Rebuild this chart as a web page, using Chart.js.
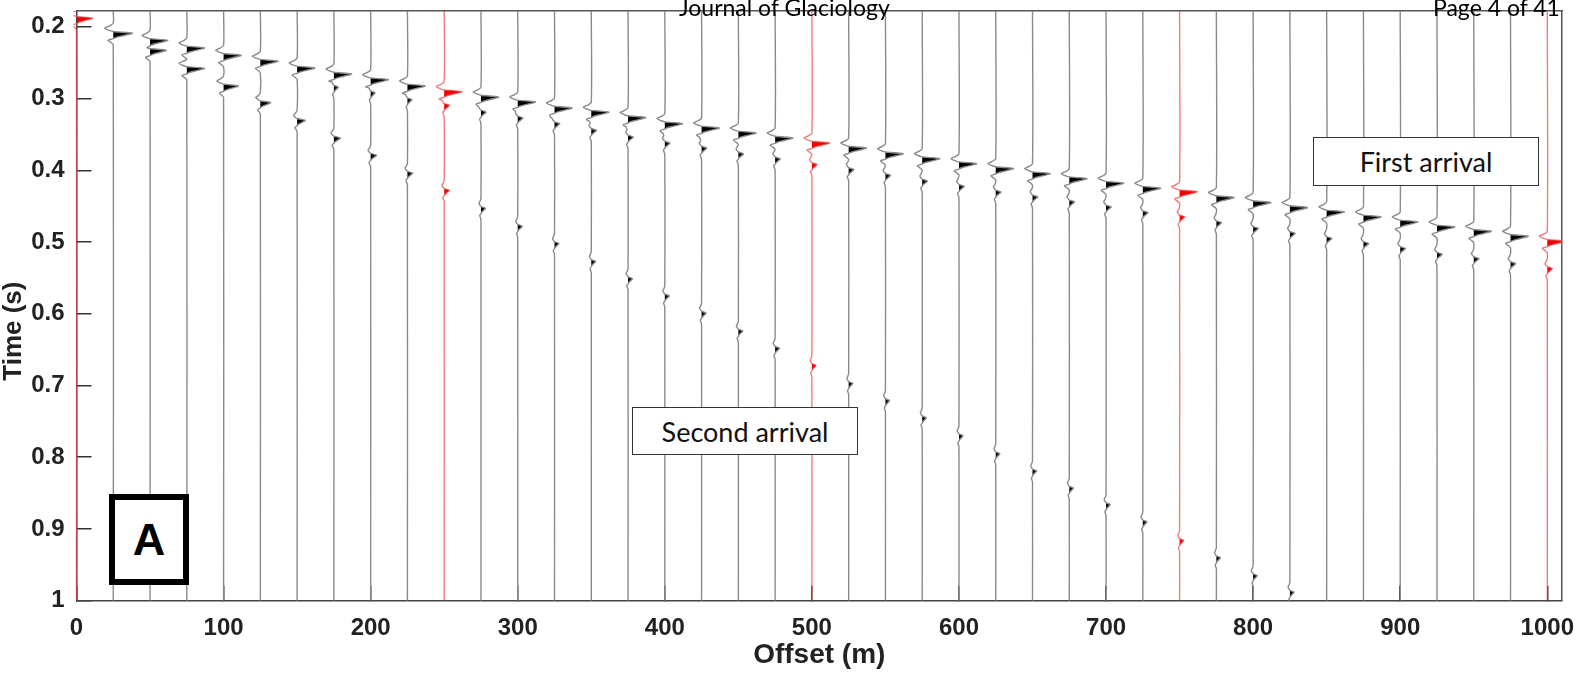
<!DOCTYPE html>
<html>
<head>
<meta charset="utf-8">
<script src="https://cdn.jsdelivr.net/npm/chart.js@4.4.1/dist/chart.umd.min.js"></script>
<style>
  html, body { margin: 0; padding: 0; background: #fff; }
  #wrap { position: relative; width: 1576px; height: 676px; overflow: hidden; }
  #wrap canvas { position: absolute; left: 0; top: 0; }
  .note {
    position: absolute; box-sizing: border-box; background: #fff; border: 1px solid #333;
    font-family: Lato, "Open Sans", sans-serif; font-size: 27px; color: #111;
    display: flex; align-items: center; justify-content: center;
  }
  #first { left: 1313px; top: 137px; width: 226px; height: 49px; }
  #second { left: 632px; top: 407px; width: 226px; height: 48px; }
  #panel {
    position: absolute; box-sizing: border-box; left: 109px; top: 494px; width: 80px; height: 91px;
    border: 6px solid #000; background: #fff; color: #000;
    font: bold 45px "Liberation Sans", Arial, sans-serif;
    display: flex; align-items: center; justify-content: center;
  }
  .head { position: absolute; font-family: Lato, sans-serif; font-size: 23px; line-height: 23px; color: #000; white-space: nowrap; }
  #journal { left: 679px; top: -4px; }
  #page { left: 1433px; top: -4px; }
</style>
</head>
<body>
<div id="wrap">
  <canvas id="chart" width="1576" height="676"></canvas>
  <div class="note" id="first">First arrival</div>
  <div class="note" id="second">Second arrival</div>
  <div id="panel">A</div>
  <div class="head" id="journal">Journal of Glaciology</div>
  <div class="head" id="page">Page 4 of 41</div>
</div>
<script>
// trace positions (m) and the red ones
const offsets = [0, 25, 50, 75, 100, 125, 150, 175, 200, 225, 250, 275, 300, 325, 350, 375, 400, 425, 450, 475,
  500, 525, 550, 575, 600, 625, 650, 675, 700, 725, 750, 775, 800, 825, 850, 875, 900, 925, 950, 975, 1000];
const redOffsets = [0, 250, 500, 750, 1000];

// first arrival (s) and wiggle amplitude (m)
const firstTime = [0.190, 0.211, 0.221, 0.2315, 0.2418, 0.250, 0.2594, 0.2678, 0.2757, 0.2845, 0.2925, 0.300, 0.3068,
  0.3152, 0.321, 0.3286, 0.337, 0.343, 0.350, 0.357, 0.364, 0.371, 0.379, 0.3858, 0.3928, 0.3997, 0.4067, 0.4137,
  0.420, 0.427, 0.432, 0.440, 0.447, 0.454, 0.460, 0.467, 0.474, 0.481, 0.487, 0.494, 0.501];
const firstAmp = [11, 13, 12, 12, 12, 12, 12, 12, 12, 12, 12, 12, 12, 12, 12, 12, 12, 12, 12, 12, 12, 12, 12, 12,
  12, 12, 12, 12, 12, 12, 12, 12, 12, 12, 12, 12, 12, 12, 12, 12, 12];

// small event just after the first arrival
const thirdTime = [null, null, null, null, null, null, null, 0.286, 0.294, 0.3035, 0.3115, 0.3207, 0.329, 0.337,
  0.3463, 0.3556, 0.364, 0.371, 0.379, 0.386, 0.394, 0.401, 0.409, 0.4169, 0.4244, 0.4322, 0.439, 0.446, 0.453,
  0.461, 0.467, 0.475, 0.483, 0.490, 0.497, 0.504, 0.511, 0.519, 0.525, 0.532, 0.539];
const thirdAmp = [null, null, null, null, null, null, null, 3, 3, 3, 3.5, 3.5, 3.5, 3.5, 3.5, 3.5, 3.5, 3.5, 3.5,
  3.5, 3.5, 3.5, 3.5, 3.5, 3.5, 3.5, 3.5, 3.5, 3.5, 3.5, 3.5, 3.5, 3.5, 3.5, 3.5, 3.5, 3.5, 3.5, 3.5, 3.5, 3.5];

// second arrival
const secondTime = [null, null, 0.2348, 0.260, 0.2845, 0.3077, 0.3324, 0.357, 0.381, 0.406, 0.430, 0.455, 0.480,
  0.504, 0.529, 0.553, 0.577, 0.601, 0.626, 0.650, 0.674, 0.699, 0.723, 0.747, 0.772, 0.797, 0.821, 0.845, 0.868,
  0.892, 0.918, 0.942, 0.967, 0.990, null, null, null, null, null, null, null];
const secondAmp = [null, null, 11, 12, 10, 7, 5.5, 4.5, 4, 3.5, 3.5, 3, 3, 3, 3, 3, 3, 3, 3, 3, 2.8, 2.8, 2.8, 2.8,
  2.8, 2.8, 2.8, 2.8, 2.8, 2.8, 2.8, 2.8, 2.8, 2.8, null, null, null, null, null, null, null];

// wavelet: time from lobe centre (s), relative amplitude
const waveletTime = [-0.016, -0.012, -0.009, -0.006, -0.0045, -0.002, 0, 0.002, 0.004, 0.0055, 0.008, 0.011, 0.014];
const waveletShape = [0, -0.2, -0.45, -0.2, 0, 1, 0.75, 0.4, 0.12, 0, -0.28, -0.12, 0];

const xTicks = [0, 100, 200, 300, 400, 500, 600, 700, 800, 900, 1000];
const xTickLabels = ["0", "100", "200", "300", "400", "500", "600", "700", "800", "900", "1000"];
const yTicks = [0.2, 0.3, 0.4, 0.5, 0.6, 0.7, 0.8, 0.9, 1];
const yTickLabels = ["0.2", "0.3", "0.4", "0.5", "0.6", "0.7", "0.8", "0.9", "1"];
const yMin = 0.178, yMax = 1;

// one trace: straight line with the wavelets put in at each event
function tracePoints(i) {
  const x0 = offsets[i];
  const events = [[firstTime[i], firstAmp[i]], [thirdTime[i], thirdAmp[i]], [secondTime[i], secondAmp[i]]]
    .filter(e => e[0] != null)
    .sort((a, b) => a[0] - b[0]);
  const pts = [{ x: x0, y: yMin }];
  events.forEach((e, k) => {
    const lo = k > 0 ? (events[k - 1][0] + e[0]) / 2 : -Infinity;
    const hi = k < events.length - 1 ? (e[0] + events[k + 1][0]) / 2 : Infinity;
    waveletTime.forEach((dt, j) => {
      const t = e[0] + dt;
      if (t >= lo && t < hi && t > yMin && t < yMax) pts.push({ x: x0 + e[1] * waveletShape[j], y: t });
    });
  });
  pts.push({ x: x0, y: yMax });
  return pts;
}

// pieces of the trace right of its baseline (filled)
function positiveLobes(pts, x0) {
  const out = [];
  let cur = [];
  pts.forEach(p => {
    if (p.x >= x0) cur.push(p);
    else {
      if (cur.some(q => q.x > x0)) out.push(cur);
      cur = [];
    }
  });
  if (cur.some(q => q.x > x0)) out.push(cur);
  return out;
}

const datasets = [];
offsets.forEach((x0, i) => {
  const red = redOffsets.includes(x0);
  const pts = tracePoints(i);
  datasets.push({
    data: pts,
    borderColor: red ? "rgba(232,70,70,0.7)" : "#8a8a8a",
    borderWidth: 1.4,
    pointRadius: 0,
    fill: false,
    tension: 0.25,
    order: 1,
    clip: x0 === 0 ? { left: 3, top: 0, right: 0, bottom: 0 } : undefined
  });
  positiveLobes(pts, x0).forEach(lobe => {
    datasets.push({
      data: lobe,
      borderColor: "rgba(0,0,0,0)",
      borderWidth: 0,
      backgroundColor: red ? "#f00000" : "#000",
      pointRadius: 0,
      tension: 0.25,
      fill: { target: { value: x0 } },
      order: 2
    });
  });
});

const axisFont = { family: "'Liberation Sans', Arial, sans-serif", size: 24, weight: "bold" };
const titleFont = { family: "'Liberation Sans', Arial, sans-serif", size: 26, weight: "bold" };

// no extra margin for labels that stick out past the plot edges
function noPadding(s) {
  s.paddingLeft = 0; s.paddingRight = 0; s.paddingTop = 0; s.paddingBottom = 0;
}

new Chart(document.getElementById("chart"), {
  type: "line",
  data: { datasets },
  options: {
    indexAxis: "y",
    responsive: false,
    animation: false,
    events: [],
    devicePixelRatio: 1,
    layout: { padding: { left: 0, top: 11, right: 14, bottom: 0 } },
    plugins: { legend: { display: false }, tooltip: { enabled: false } },
    scales: {
      x: {
        type: "linear", position: "bottom", min: 0, max: 1010,
        afterBuildTicks: s => { s.ticks = xTicks.map(v => ({ value: v })); },
        afterFit: s => { s.height = 75.3; noPadding(s); },
        ticks: { color: "#222", font: axisFont, padding: 28, maxRotation: 0, autoSkip: false,
          callback: (v, i) => xTickLabels[i] },
        grid: { drawOnChartArea: false, drawTicks: true, tickLength: -15, color: "#333", lineWidth: 1.5 },
        border: { display: true, color: "#444", width: 1.5 },
        title: { display: true, text: "Offset (m)", color: "#222", font: { ...titleFont, size: 28 }, padding: { top: 0, bottom: 4 } }
      },
      y: {
        type: "linear", position: "left", reverse: true, min: yMin, max: yMax,
        afterBuildTicks: s => { s.ticks = yTicks.map(v => ({ value: v })); },
        afterFit: s => { s.width = 76.5; noPadding(s); },
        ticks: { color: "#222", font: axisFont, padding: 27, autoSkip: false,
          callback: (v, i) => yTickLabels[i] },
        grid: { drawOnChartArea: false, drawTicks: true, tickLength: -15, color: "#333", lineWidth: 1.5 },
        border: { display: true, color: "#444", width: 1.5 },
        // trailing spaces push the label a little below the axis centre, as in the figure
        title: { display: true, text: "Time (s)       ", color: "#222", font: { ...titleFont, lineHeight: 1 }, padding: { top: 1, bottom: 0 } }
      },
      x2: {
        type: "linear", position: "top", min: 0, max: 1010,
        afterFit: s => { s.height = 0; noPadding(s); },
        ticks: { display: false },
        grid: { display: false, drawTicks: false },
        border: { display: true, color: "#555", width: 1.5 }
      },
      y2: {
        type: "linear", position: "right", min: yMin, max: yMax,
        afterFit: s => { s.width = 0; noPadding(s); },
        ticks: { display: false },
        grid: { display: false, drawTicks: false },
        border: { display: true, color: "#555", width: 1.5 }
      }
    }
  }
});
</script>
</body>
</html>
